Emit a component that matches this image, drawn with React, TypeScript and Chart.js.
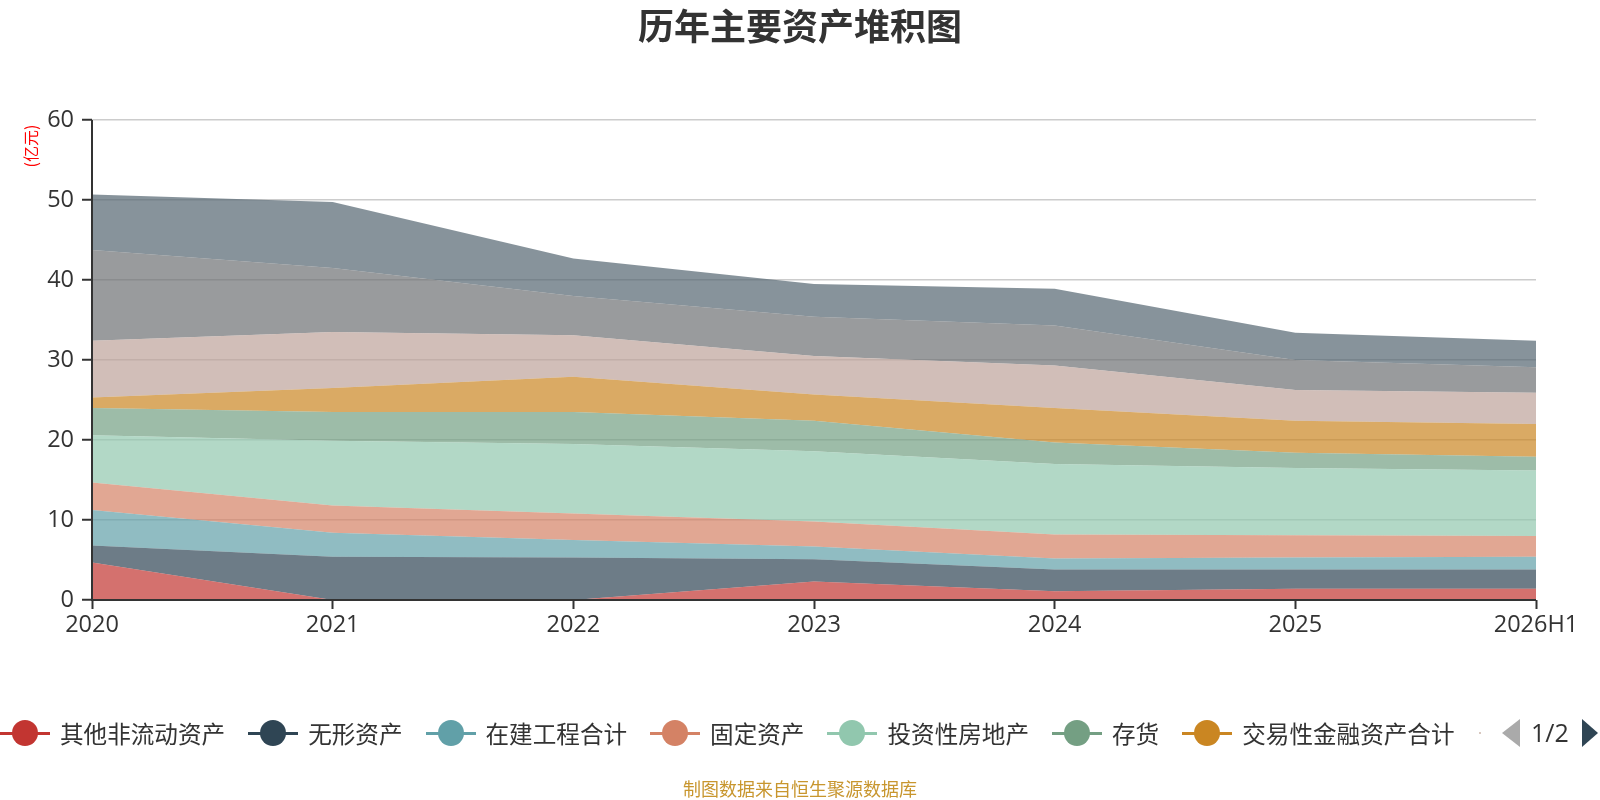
import Chart from 'chart.js/auto';
import { useEffect, useRef } from 'react';

const categories = ['2020', '2021', '2022', '2023', '2024', '2025', '2026H1'];

// values in 亿元, bottom of the stack first
const otherNonCurrent = [4.7, 0, 0, 2.3, 1.1, 1.4, 1.4];
const intangible = [2.1, 5.4, 5.3, 2.8, 2.7, 2.4, 2.4];
const construction = [4.45, 3.0, 2.2, 1.6, 1.4, 1.5, 1.6];
const fixedAssets = [3.45, 3.4, 3.3, 3.1, 3.0, 2.8, 2.6];
const investProperty = [5.9, 8.1, 8.7, 8.8, 8.8, 8.4, 8.2];
const inventory = [3.4, 3.6, 4.0, 3.8, 2.7, 1.9, 1.7];
const tradingFinancial = [1.3, 3.0, 4.4, 3.3, 4.3, 4.0, 4.1];
const receivables = [7.1, 7.0, 5.2, 4.8, 5.3, 3.85, 3.9];
const otherReceivables = [11.35, 8.0, 4.9, 4.9, 5.0, 3.75, 3.2];
const cash = [6.95, 8.25, 4.7, 4.1, 4.6, 3.4, 3.3];

const seriesNames = [
  '其他非流动资产',
  '无形资产',
  '在建工程合计',
  '固定资产',
  '投资性房地产',
  '存货',
  '交易性金融资产合计',
  '应收票据及应收账款',
  '其他应收款合计',
  '货币资金',
];
const seriesValues = [
  otherNonCurrent,
  intangible,
  construction,
  fixedAssets,
  investProperty,
  inventory,
  tradingFinancial,
  receivables,
  otherReceivables,
  cash,
];
const palette = [
  '#c23531', '#2f4554', '#61a0a8', '#d48265', '#91c7ae',
  '#749f83', '#ca8622', '#bda29a', '#6e7074', '#546570',
];
const legendOnPage = 7;

const FONT = '"Open Sans", "Noto Sans CJK SC", sans-serif';

const hexToRgba = (hex: string, a: number) => {
  const n = parseInt(hex.slice(1), 16);
  return `rgba(${(n >> 16) & 255}, ${(n >> 8) & 255}, ${n & 255}, ${a})`;
};

const decorPlugin = {
  id: 'decor',
  afterDatasetsDraw(chart: any) {
    const { ctx, chartArea } = chart;
    ctx.save();
    // axis lines on top of the areas
    ctx.strokeStyle = '#333';
    ctx.lineWidth = 2;
    ctx.beginPath();
    ctx.moveTo(chartArea.left, chartArea.top);
    ctx.lineTo(chartArea.left, chartArea.bottom);
    ctx.lineTo(chartArea.right, chartArea.bottom);
    ctx.stroke();
    ctx.restore();
  },
  afterDraw(chart: any) {
    const { ctx } = chart;
    ctx.save();
    ctx.fillStyle = '#333';
    ctx.font = `bold 36px "Noto Sans CJK SC", sans-serif`;
    ctx.textAlign = 'center';
    ctx.textBaseline = 'middle';
    ctx.fillText('历年主要资产堆积图', 800, 26);

    ctx.translate(31, 146);
    ctx.rotate(-Math.PI / 2);
    ctx.fillStyle = '#ff0000';
    ctx.font = `16px "Noto Sans CJK SC", sans-serif`;
    ctx.fillText('(亿元)', 0, 0);
    ctx.restore();
  },
};

const StackChart = () => {
  const chartRef = useRef<HTMLCanvasElement | null>(null);

  useEffect(() => {
    if (!chartRef.current) return;
    const context = chartRef.current.getContext('2d');
    if (!context) return;

    const myChart = new Chart(context, {
      type: 'line',
      data: {
        labels: categories,
        datasets: seriesValues.map((values, i) => ({
          label: seriesNames[i],
          data: values,
          backgroundColor: hexToRgba(palette[i], 0.7),
          borderColor: hexToRgba(palette[i], 0.7),
          borderWidth: 0,
          pointRadius: 0,
          tension: 0,
          fill: i === 0 ? 'origin' : '-1',
        })),
      },
      options: {
        responsive: false,
        animation: false,
        layout: { padding: { left: 0, right: 64, top: 120, bottom: 0 } },
        plugins: {
          legend: { display: false },
          tooltip: { enabled: false },
          title: { display: false },
        },
        scales: {
          x: {
            offset: false,
            grid: {
              drawOnChartArea: false,
              drawTicks: true,
              tickLength: 9,
              tickColor: '#333',
              tickWidth: 2,
            },
            border: { display: false },
            ticks: {
              color: '#333',
              font: { family: FONT, size: 23.5 },
              padding: 2,
              maxRotation: 0,
              autoSkip: false,
            },
            afterFit: (scale: any) => {
              scale.height = 200;
            },
          },
          y: {
            stacked: true,
            min: 0,
            max: 60,
            ticks: {
              stepSize: 10,
              color: '#333',
              font: { family: FONT, size: 23.5 },
              padding: 8,
            },
            grid: {
              color: '#cccccc',
              lineWidth: 1.5,
              tickLength: 10,
              tickColor: '#333',
              tickWidth: 2,
            },
            border: { display: false },
            afterFit: (scale: any) => {
              scale.width = 92;
            },
          },
        },
      },
      plugins: [decorPlugin],
    });

    return () => myChart.destroy();
  }, []);

  return <canvas ref={chartRef} width={1600} height={800} />;
};

const Legend = () => (
  <div
    style={{
      position: 'absolute',
      left: 0,
      top: 733,
      transform: 'translateY(-50%)',
      display: 'flex',
      alignItems: 'center',
      fontFamily: FONT,
      fontSize: 23.6,
      color: '#333',
      whiteSpace: 'nowrap',
    }}
  >
    {seriesNames.slice(0, legendOnPage).map((name, i) => (
      <div key={name} style={{ display: 'flex', alignItems: 'center', marginRight: 23 }}>
        <div style={{ position: 'relative', width: 50, height: 26, marginRight: 10 }}>
          <div
            style={{
              position: 'absolute',
              left: 0,
              top: 11.5,
              width: 50,
              height: 3,
              background: palette[i],
            }}
          />
          <div
            style={{
              position: 'absolute',
              left: 12,
              top: 0,
              width: 26,
              height: 26,
              borderRadius: '50%',
              background: palette[i],
            }}
          />
        </div>
        <span>{name}</span>
      </div>
    ))}
  </div>
);

const Pager = () => (
  <div style={{ position: 'absolute', left: 0, top: 733, fontFamily: FONT }}>
    <div
      style={{
        position: 'absolute',
        left: 1479,
        top: -1,
        width: 2,
        height: 2,
        background: '#d8c8c0',
      }}
    />
    <div
      style={{
        position: 'absolute',
        left: 1502,
        top: -14,
        width: 0,
        height: 0,
        borderTop: '14px solid transparent',
        borderBottom: '14px solid transparent',
        borderRight: '18px solid #aaaaaa',
      }}
    />
    <div
      style={{
        position: 'absolute',
        left: 1531,
        top: -18,
        fontSize: 25,
        lineHeight: '34px',
        color: '#333',
      }}
    >
      1/2
    </div>
    <div
      style={{
        position: 'absolute',
        left: 1582,
        top: -14,
        width: 0,
        height: 0,
        borderTop: '14px solid transparent',
        borderBottom: '14px solid transparent',
        borderLeft: '16px solid #2f4554',
      }}
    />
  </div>
);

export default function App() {
  return (
    <div style={{ position: 'absolute', left: 0, top: 0, width: 1600, height: 800, overflow: 'hidden' }}>
      <StackChart />
      <Legend />
      <Pager />
      <div
        style={{
          position: 'absolute',
          left: 0,
          width: 1600,
          top: 777,
          textAlign: 'center',
          fontFamily: '"Noto Sans CJK SC", sans-serif',
          fontSize: 18,
          lineHeight: '22px',
          color: '#c8962e',
        }}
      >
        制图数据来自恒生聚源数据库
      </div>
    </div>
  );
}
